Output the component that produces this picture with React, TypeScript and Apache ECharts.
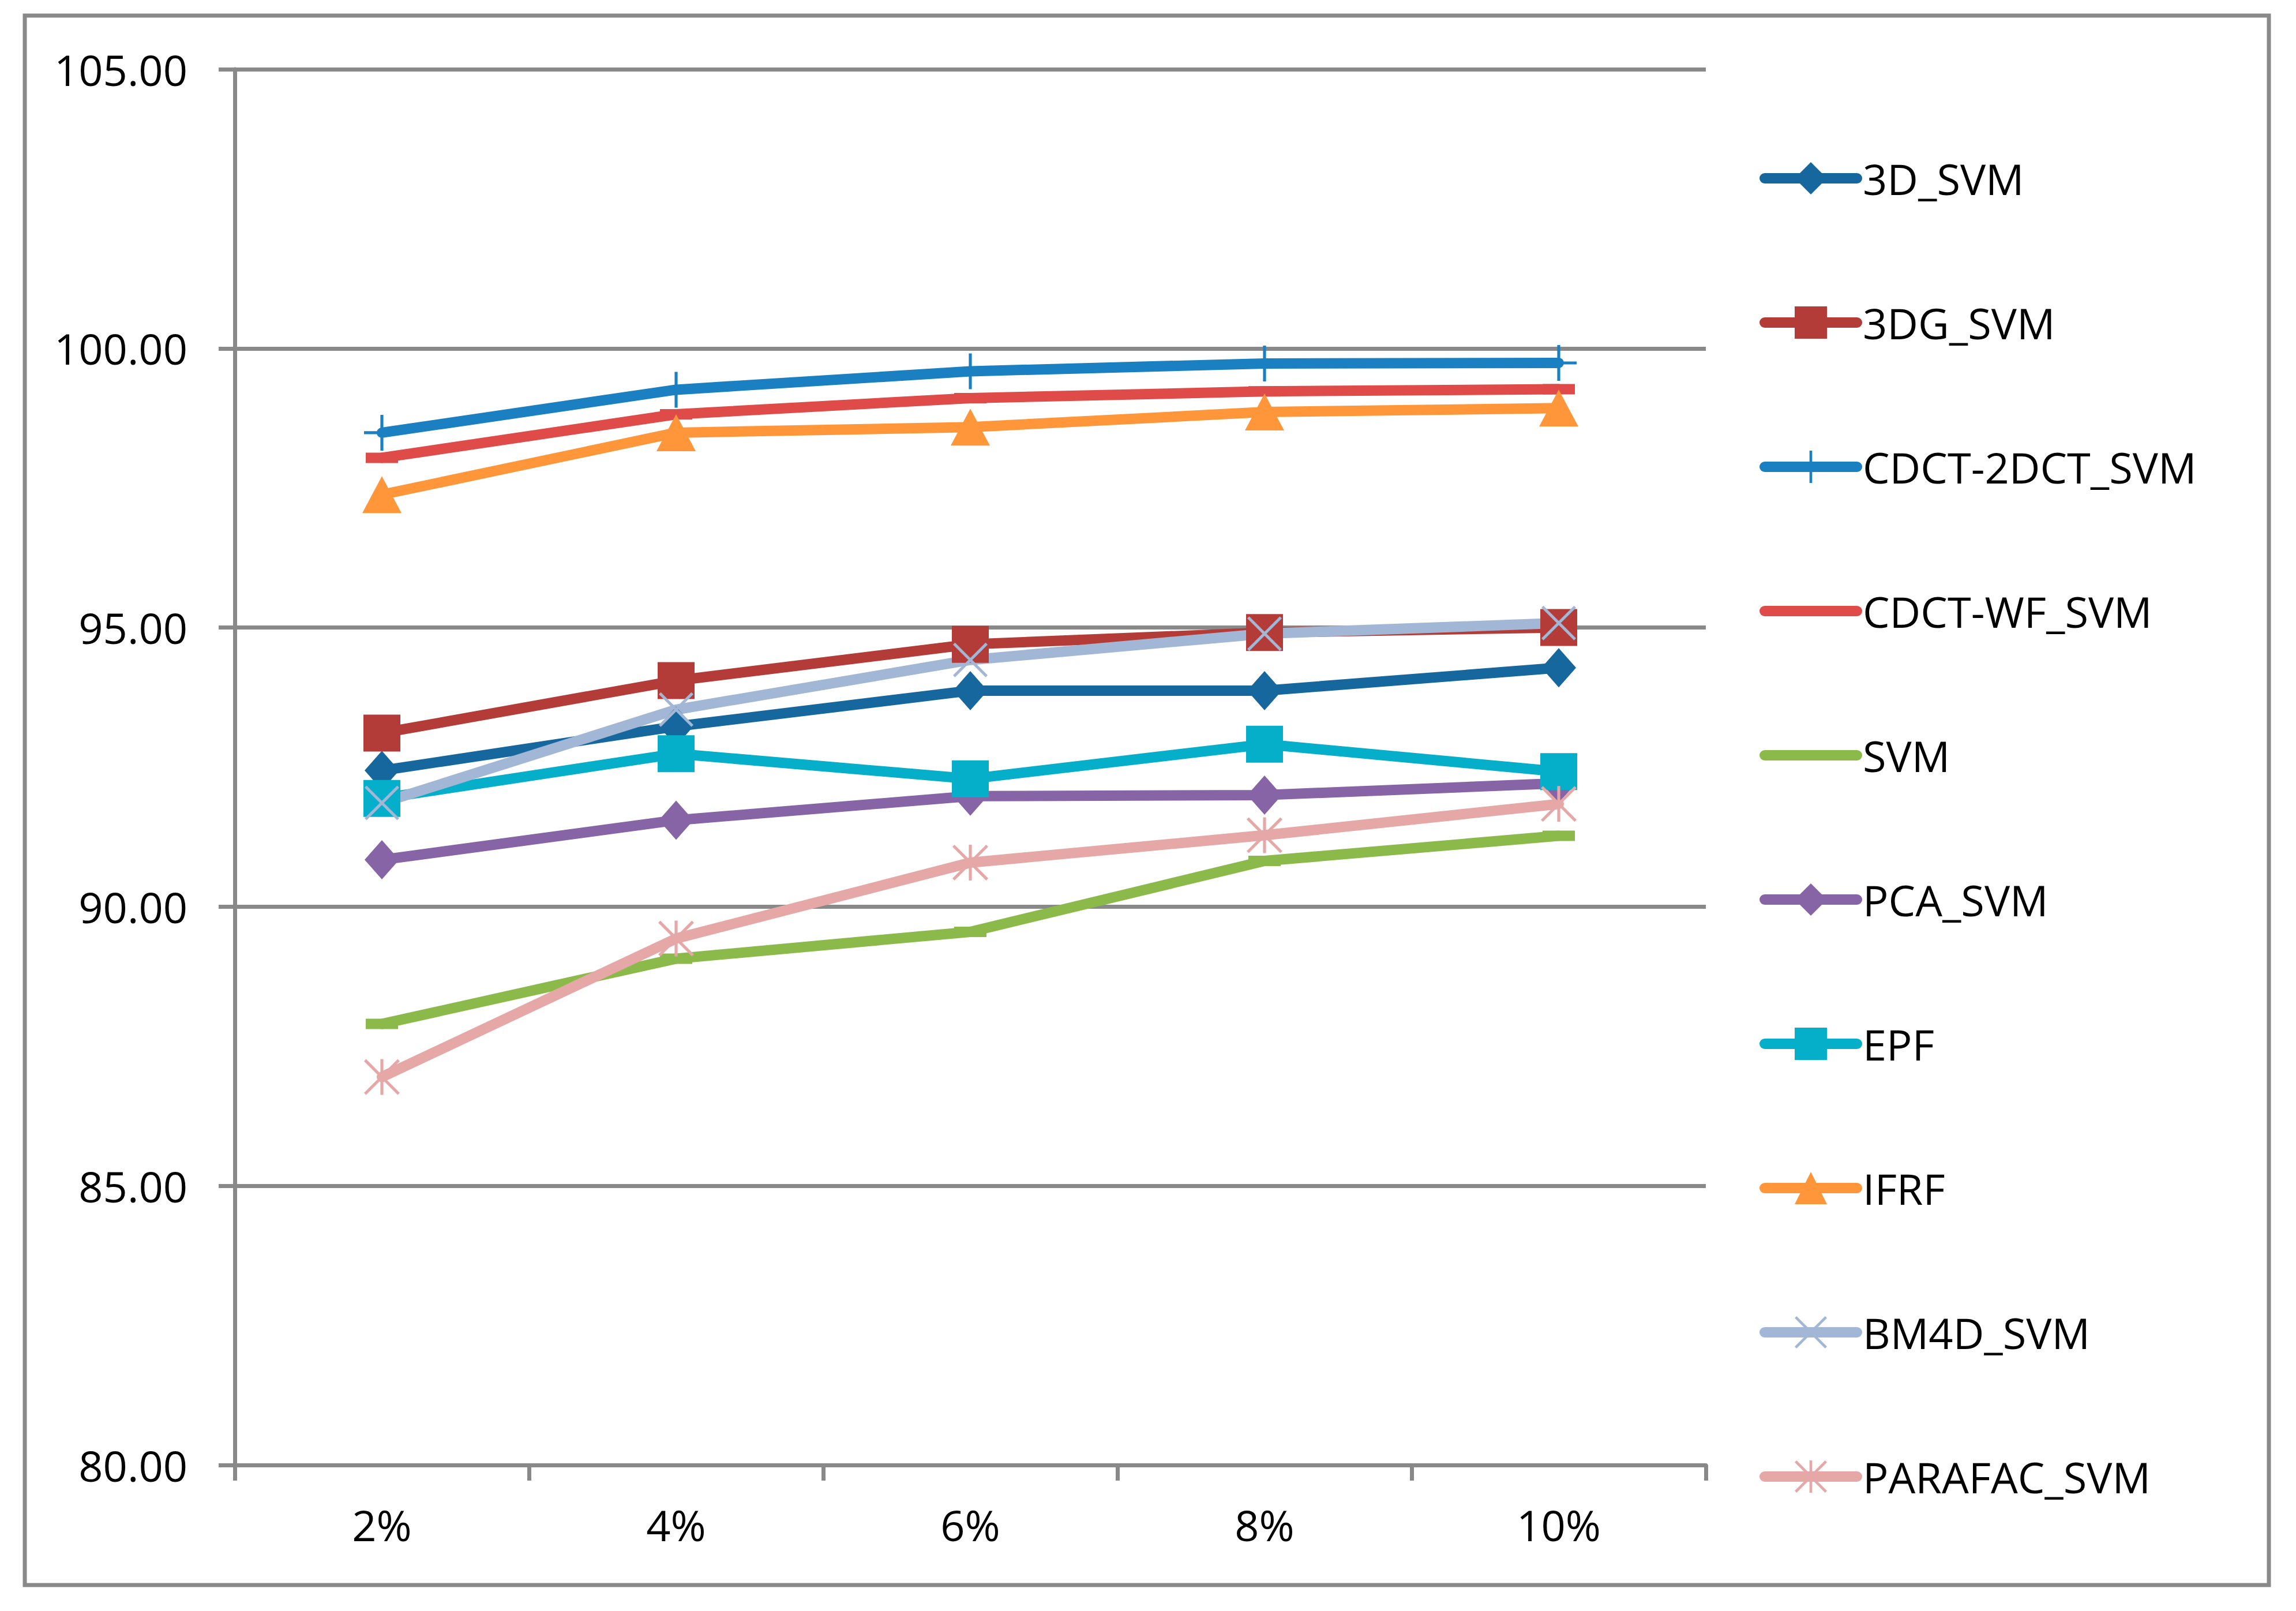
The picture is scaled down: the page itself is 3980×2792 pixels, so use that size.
import React, { useEffect, useRef } from "react";
import * as echarts from "echarts";

const categories = ["2%", "4%", "6%", "8%", "10%"];
const yTicks = { min: 80, max: 105, interval: 5 };

const s3D = [92.44, 93.23, 93.87, 93.87, 94.28];
const s3DG = [93.11, 94.05, 94.7, 94.91, 95.0];
const sCDCT2DCT = [98.49, 99.26, 99.59, 99.73, 99.74];
const sCDCTWF = [98.04, 98.82, 99.11, 99.23, 99.27];
const sSVM = [87.9, 89.07, 89.55, 90.82, 91.27];
const sPCA = [90.84, 91.55, 91.98, 92.0, 92.21];
const sEPF = [91.94, 92.74, 92.29, 92.91, 92.42];
const sIFRF = [97.38, 98.49, 98.59, 98.86, 98.93];
const sBM4D = [91.86, 93.53, 94.42, 94.89, 95.08];
const sPARAFAC = [86.95, 89.43, 90.79, 91.28, 91.84];

const FONT = '"Open Sans", "Noto Sans", sans-serif';
const GRAY = "#898989";

const PLUS = "path://M27.5,0h5v60h-5z M0,27.5h60v5h-60z";
const CROSS = "path://M0,3.5L3.5,0L60,56.5L56.5,60Z M56.5,0L60,3.5L3.5,60L0,56.5Z";
const STAR =
  "path://M0,3.5L3.5,0L60,56.5L56.5,60Z M56.5,0L60,3.5L3.5,60L0,56.5Z M27.5,0h5v60h-5z";
const DASH = "path://M0,0h60v18h-60z";

type Spec = {
  name: string;
  data: number[];
  color: string;
  symbol: string;
  size: number | number[];
  hideLegendSymbol?: boolean;
};

const specs: Spec[] = [
  { name: "3D_SVM", data: s3D, color: "#15679D", symbol: "diamond", size: [60, 68] },
  { name: "3DG_SVM", data: s3DG, color: "#B33C38", symbol: "rect", size: 64 },
  { name: "CDCT-2DCT_SVM", data: sCDCT2DCT, color: "#1A80C1", symbol: PLUS, size: 62 },
  { name: "CDCT-WF_SVM", data: sCDCTWF, color: "#DE4B48", symbol: DASH, size: [56, 18], hideLegendSymbol: true },
  { name: "SVM", data: sSVM, color: "#8BBA4B", symbol: DASH, size: [56, 18], hideLegendSymbol: true },
  { name: "PCA_SVM", data: sPCA, color: "#8664A5", symbol: "diamond", size: [60, 68] },
  { name: "EPF", data: sEPF, color: "#05AEC9", symbol: "rect", size: 64 },
  { name: "IFRF", data: sIFRF, color: "#FF973A", symbol: "triangle", size: [68, 64] },
  { name: "BM4D_SVM", data: sBM4D, color: "#A2B7D6", symbol: CROSS, size: 60 },
  { name: "PARAFAC_SVM", data: sPARAFAC, color: "#E6A7A7", symbol: STAR, size: 62 },
];

export default function App() {
  const ref = useRef<HTMLDivElement>(null);

  useEffect(() => {
    if (!ref.current) return;
    const chart = echarts.init(ref.current, undefined, { renderer: "svg" });

    const option: any = {
      animation: false,
      backgroundColor: "#ffffff",
      graphic: [
        {
          type: "rect",
          shape: { x: 43, y: 27, width: 3890, height: 2720 },
          style: { fill: "none", stroke: GRAY, lineWidth: 7 },
          silent: true,
        },
      ],
      grid: { left: 407, top: 120, right: 1023, bottom: 253, containLabel: false },
      legend: {
        orient: "vertical",
        left: 3050,
        top: 272,
        padding: 0,
        itemWidth: 160,
        itemHeight: 70,
        itemGap: 176,
        selectedMode: false,
        lineStyle: { width: 18, cap: "round" },
        textStyle: {
          fontFamily: FONT,
          fontSize: 74,
          lineHeight: 70,
          color: "#000",
          padding: [0, 0, 0, 5],
        },
        data: specs.map((s) =>
          s.hideLegendSymbol ? { name: s.name, itemStyle: { opacity: 0 } } : { name: s.name }
        ),
      },
      xAxis: {
        type: "category",
        data: categories,
        boundaryGap: true,
        axisLine: { show: true, lineStyle: { color: GRAY, width: 7 } },
        axisTick: { show: true, length: 27, lineStyle: { color: GRAY, width: 7 } },
        axisLabel: { fontFamily: FONT, fontSize: 74, color: "#000", margin: 66 },
        splitLine: { show: false },
      },
      yAxis: {
        type: "value",
        min: yTicks.min,
        max: yTicks.max,
        interval: yTicks.interval,
        axisLine: { show: true, lineStyle: { color: GRAY, width: 7 } },
        axisTick: { show: true, length: 28, lineStyle: { color: GRAY, width: 7 } },
        axisLabel: {
          fontFamily: FONT,
          fontSize: 74,
          color: "#000",
          margin: 82,
          formatter: (v: number) => v.toFixed(2),
        },
        splitLine: { show: true, lineStyle: { color: GRAY, width: 7 } },
      },
      series: specs.map((s) => ({
        name: s.name,
        type: "line",
        data: s.data,
        symbol: s.symbol,
        symbolSize: s.size,
        showSymbol: true,
        color: s.color,
        lineStyle: { color: s.color, width: 18, cap: "round", join: "round" },
        itemStyle: { color: s.color, borderWidth: 0 },
        emphasis: { disabled: true },
      })),
    };

    chart.setOption(option);
    return () => chart.dispose();
  }, []);

  return (
    <div
      ref={ref}
      style={{ position: "fixed", left: 0, top: 0, width: 3980, height: 2792, background: "#fff" }}
    />
  );
}
